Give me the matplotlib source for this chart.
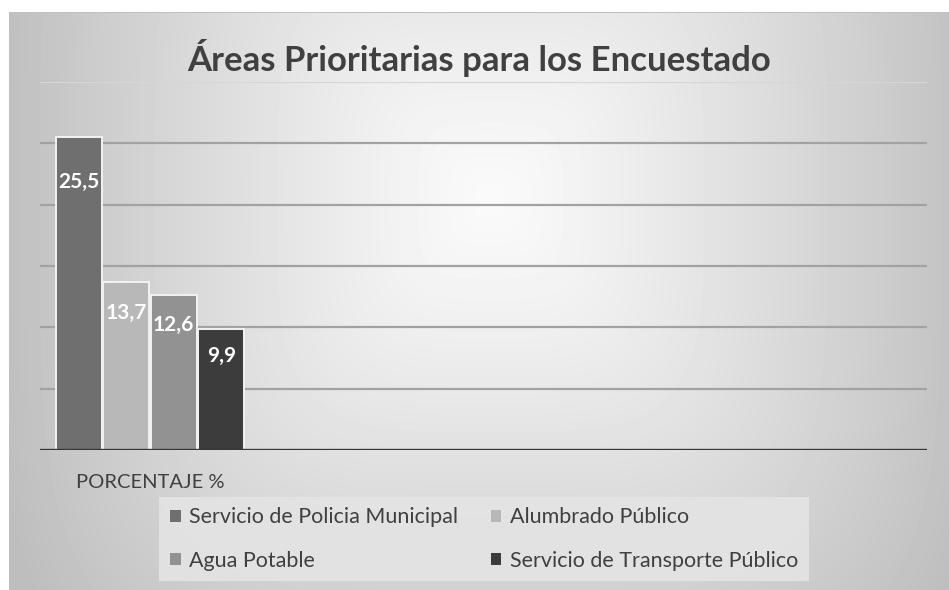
import numpy as np
import matplotlib
matplotlib.use("Agg")
import matplotlib.pyplot as plt
from matplotlib.patches import Patch

plt.rcParams['font.family'] = ['Lato', 'DejaVu Sans']

# data
title = "Áreas Prioritarias para los Encuestado"
category = "PORCENTAJE %"
series = ["Servicio de Policia Municipal", "Alumbrado Público",
          "Agua Potable", "Servicio de Transporte Público"]
values = [25.5, 13.7, 12.6, 9.9]
labels = ["25,5", "13,7", "12,6", "9,9"]
colors = ["#6f6f6f", "#b8b8b8", "#929292", "#3c3c3c"]
label_drop = [32, 22, 21, 20]   # points below bar top for the value text

W, H = 949, 590
fig = plt.figure(figsize=(W / 100, H / 100), dpi=100)

# background panel with soft radial-ish gradient
bg = fig.add_axes([0, 0, 1, 1], zorder=-10)
yy, xx = np.mgrid[0:H, 0:W]
dx = (xx - 490) / 480.0
dy = (yy - 200) / 520.0
r = (np.abs(dx) ** 4 + np.abs(dy) ** 4) ** 0.25
shade = np.clip(250 - 58 * r ** 1.2, 190, 255) / 255.0
shade[:12, :] = 1.0
shade[:, :9] = 1.0
shade[12, 9:] = 0.75
bg.imshow(shade, cmap="gray", vmin=0, vmax=1, aspect="auto", interpolation="bilinear")
bg.axis("off")

ax = fig.add_axes([40 / W, 1 - 450 / H, 887 / W, 368 / H])
ax.patch.set_alpha(0)

x = np.arange(len(values))
bars = ax.bar(x, values, width=0.97, color=colors, edgecolor="#f2f2f2",
              linewidth=1.4, zorder=3)

for b, lab, drop in zip(bars, labels, label_drop):
    ax.annotate(lab, (b.get_x() + b.get_width() / 2, b.get_height()),
                xytext=(0, -drop), textcoords="offset points",
                ha="center", va="center", color="white",
                fontsize=15, fontweight="bold", zorder=4)

ax.set_ylim(0, 30)
ax.set_xlim(-0.815, 17.86)
ax.set_yticks(np.arange(0, 31, 5))
ax.set_yticklabels([])
ax.tick_params(axis="y", length=0)
ax.yaxis.grid(True, color="#a2a2a2", linewidth=1.6, zorder=0)
ax.get_ygridlines()[-1].set_color("#d6d6d6")
ax.get_ygridlines()[0].set_visible(False)
ax.set_axisbelow(True)
for s in ax.spines.values():
    s.set_visible(False)
ax.axhline(0, color="#363636", linewidth=2.4, zorder=5)

ax.set_xticks([(len(values) - 1) / 2])
ax.set_xticklabels([category], fontsize=14.5, color="#404040")
ax.tick_params(axis="x", length=0, pad=17)

fig.text(0.505, 1 - 58 / H, title, ha="center", va="center",
         fontsize=25, fontweight="bold", color="#404040")

order = [0, 2, 1, 3]
handles = [Patch(facecolor=colors[i], edgecolor="none") for i in order]
leg = fig.legend(handles, [series[i] for i in order], ncol=2,
                 loc="center", bbox_to_anchor=(484 / W, 1 - 539 / H),
                 frameon=True, fancybox=False, fontsize=15.5,
                 handlelength=0.5, handleheight=0.5, handletextpad=0.4,
                 columnspacing=1.5, labelspacing=1.08, borderpad=0.5,
                 labelcolor="#404040")
leg.get_frame().set_facecolor("#e4e4e4")
leg.get_frame().set_edgecolor("none")
leg.get_frame().set_alpha(0.9)

fig.savefig("out.png", dpi=100)
